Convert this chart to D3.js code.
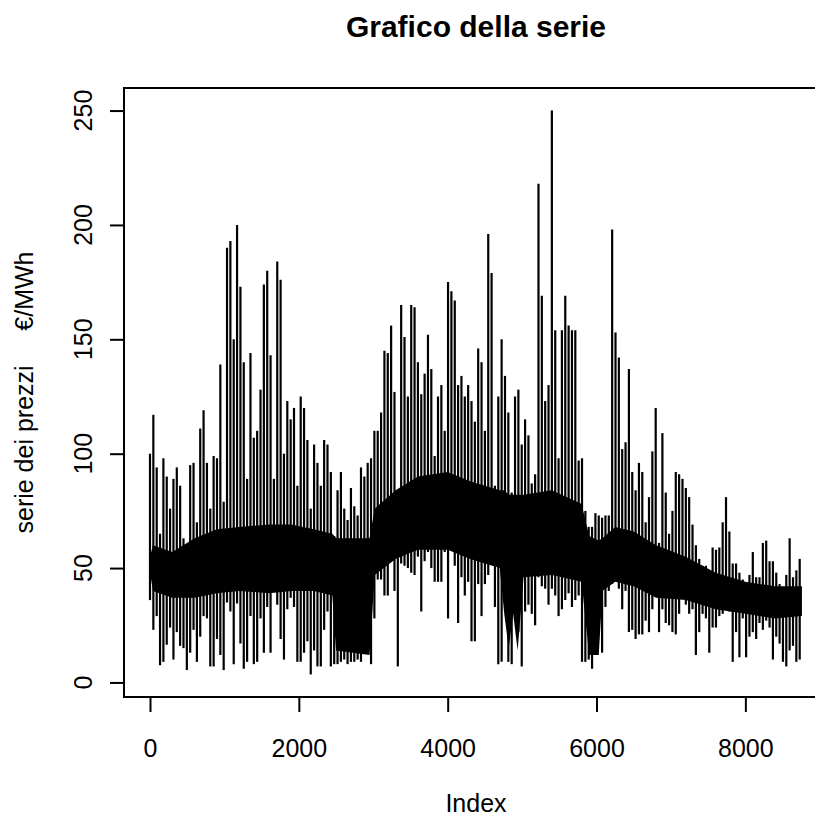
<!DOCTYPE html>
<html>
<head>
<meta charset="utf-8">
<script src="https://cdn.jsdelivr.net/npm/d3@7"></script>
<style>
body { margin: 0; background: #ffffff; }
text { font-family: "Liberation Sans", Arial, sans-serif; fill: #000000; }
</style>
</head>
<body>
<div id="chart"></div>
<script>
// hourly price series, read off the picture as an envelope:
// one max / min pair every STEP hours, plus the solid body of the series
var STEP = 45;
var nObs = 8760;

var hiVals = [100,117,94,65,98,90,76,89,94,86,63,55,95,96,70,111,119,96,76,99,
  98,139,79,190,193,150,200,173,140,89,144,107,110,128,174,180,143,89,184,176,
  100,123,115,120,86,125,120,106,76,104,96,86,106,104,92,64,84,92,76,71,
  85,77,73,94,90,96,98,110,110,118,145,144,156,127,80,165,151,125,165,164,
  140,126,135,152,137,99,125,130,110,175,171,167,130,134,125,130,123,114,146,140,
  110,196,179,86,125,150,134,118,83,125,128,104,115,108,87,91,218,169,123,130,
  250,154,98,154,169,156,154,154,97,98,75,68,68,74,73,72,73,73,198,153,
  142,102,105,137,92,84,96,92,70,81,101,120,61,109,83,65,75,92,91,89,
  85,81,69,60,54,51,51,46,59,58,59,70,81,66,52,52,48,45,40,47,
  57,46,46,61,62,53,53,48,43,38,47,63,46,49,54];

var loVals = [36,23,29,7.5,9,16.5,24,10,22,16,15,5.4,13,23,9,20,29,28,7,7,
  19,12,5.4,35,31,8,34.5,17,6,9,29,8,9,28,13,33,13,40,34,19,
  10,32,37,33,9,9,13,18,3.5,14,7,7,23,31,7,8,8,9,10,8,
  9,9,10,9,13,13,8,28,45,45,38,38,53,40,7,52,51,50,48,47,
  55,31,53,57,50,44,44,44,57,28,58,51,26,46,38,44,18,18,43,29,
  43,47,52,33,8,9,36,9,8,42,22,7,31,34,30,25,46,42,41,34,
  41,38,29,32,36,39,33,36,38,9,9,10,6,31,29,13,33,40,43,48,
  41,32,40,22,23,19,21,21,27,22,32,38,22,32,26,25,22,21,30,37,
  34,30,32,12,22,30,28,13,24,24,29,30,33,31,9,22,11,28,11,20,
  22,19,26,23,27,24,10,20,17,9,7,14,16,9,10];

// solid body of the series (where the hourly line covers every pixel)
var coreIdx = [0,40,300,600,900,1200,1600,1900,2200,2450,2500,2950,3020,3300,3600,4000,
  4300,4700,4760,4820,4880,4940,5020,5400,5800,5900,6030,6080,6250,6500,6800,7200,
  7600,8000,8400,8760];
var coreHi = [55,60,57,63,67,68,69,69,67,65,63,63,76,84,90,92,
  88,84,84,82,82,82,82,84,78,64,62,63,68,66,60,55,
  48,44,42,42];
var coreLo = [48,40,37,37,39,40,39,40,40,38,14,12,47,54,58,58,
  54,50,30,15,30,14,46,47,44,12,12,40,44,42,37,36,
  32,30,28,29];

var xTicks = [0, 2000, 4000, 6000, 8000];
var yTicks = [0, 50, 100, 150, 200, 250];

var W = 815, H = 819;
var box = {left: 124, right: 828, top: 88, bottom: 697};

var svg = d3.select("#chart").append("svg")
  .attr("width", W)
  .attr("height", H)
  .style("display", "block");

// R style ranges: data extent padded by 4% each side
var xPad = 0.04 * (nObs - 1);
var x = d3.scaleLinear()
  .domain([1 - xPad, nObs + xPad])
  .range([box.left, box.right]);

var yMin = d3.min(loVals), yMax = d3.max(hiVals);
var yPad = 0.04 * (yMax - yMin);
var y = d3.scaleLinear()
  .domain([yMin - yPad, yMax + yPad])
  .range([box.bottom, box.top]);

// body
var core = coreIdx.map(function(d, i){ return {i: d, hi: coreHi[i], lo: coreLo[i]}; });
svg.append("path")
  .datum(core)
  .attr("fill", "#000000")
  .attr("d", d3.area()
    .x(function(d){ return x(d.i); })
    .y0(function(d){ return y(d.lo); })
    .y1(function(d){ return y(d.hi); }));

// spikes
var spikes = hiVals.map(function(h, k){ return {i: k * STEP, hi: h, lo: loVals[k]}; });
svg.append("g").selectAll("line")
  .data(spikes)
  .enter().append("line")
  .attr("x1", function(d){ return x(d.i); })
  .attr("x2", function(d){ return x(d.i); })
  .attr("y1", function(d){ return y(d.lo); })
  .attr("y2", function(d){ return y(d.hi); })
  .attr("stroke", "#000000")
  .attr("stroke-width", 2.2);

// box
svg.append("rect")
  .attr("x", box.left)
  .attr("y", box.top)
  .attr("width", box.right - box.left)
  .attr("height", box.bottom - box.top)
  .attr("fill", "none")
  .attr("stroke", "#000000")
  .attr("stroke-width", 2);

// x axis
var xAxis = svg.append("g")
  .attr("transform", "translate(0," + box.bottom + ")")
  .call(d3.axisBottom(x).tickValues(xTicks).tickSize(15).tickPadding(27).tickFormat(d3.format("d")));
xAxis.select(".domain").remove();
xAxis.selectAll("line").attr("stroke-width", 2);
xAxis.selectAll("text").attr("font-size", 25).attr("font-family", null).attr("dy", "0.71em");

// y axis: ticks from the axis, labels rotated like R
var yAxis = svg.append("g")
  .attr("transform", "translate(" + (box.left + 1) + ",0)")
  .call(d3.axisLeft(y).tickValues(yTicks).tickSize(15).tickFormat(""));
yAxis.select(".domain").remove();
yAxis.selectAll("line").attr("stroke-width", 2);

svg.append("g").selectAll("text")
  .data(yTicks)
  .enter().append("text")
  .attr("transform", function(d){ return "translate(92," + y(d) + ") rotate(-90)"; })
  .attr("text-anchor", "middle")
  .attr("font-size", 25)
  .text(function(d){ return d; });

// titles
var midX = (box.left + box.right) / 2;
svg.append("text")
  .attr("x", midX)
  .attr("y", 37)
  .attr("text-anchor", "middle")
  .attr("font-size", 30)
  .attr("font-weight", "bold")
  .text("Grafico della serie");

svg.append("text")
  .attr("x", midX)
  .attr("y", 812)
  .attr("text-anchor", "middle")
  .attr("font-size", 25)
  .text("Index");

svg.append("text")
  .attr("transform", "translate(33," + (box.top + box.bottom) / 2 + ") rotate(-90)")
  .attr("text-anchor", "middle")
  .attr("font-size", 25)
  .style("white-space", "pre")
  .text("serie dei prezzi     €/MWh");
</script>
</body>
</html>
